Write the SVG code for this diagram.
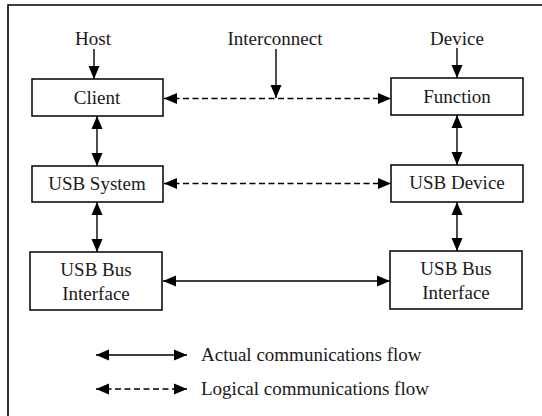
<svg xmlns="http://www.w3.org/2000/svg" width="542" height="416" viewBox="0 0 542 416">
  <style>
    .box { fill: #ffffff; stroke: #000000; stroke-width: 1.5; }
    .lbl { font-family: 'Liberation Serif', 'DejaVu Serif', serif; font-size: 19px; fill: #1a1a1a; }
    .mid { text-anchor: middle; }
    .solid { stroke: #000000; stroke-width: 1.4; fill: none; }
    .dash { stroke: #000000; stroke-width: 1.4; fill: none; stroke-dasharray: 6 3.5; }
    .bi { marker-start: url(#head); marker-end: url(#head); }
    .uni { marker-end: url(#head); }
  </style>
  <defs>
    <marker id="head" markerUnits="userSpaceOnUse" markerWidth="14" markerHeight="12" refX="13" refY="6" orient="auto-start-reverse">
      <path d="M0,0.5 L13,6 L0,11.5 z" fill="#000000"/>
    </marker>
  </defs>
  <rect width="542" height="416" fill="#ffffff"/>

  <!-- frame: left and top edges only -->
  <path d="M8,416 V5 H542" fill="none" stroke="#000000" stroke-width="1.6"/>

  <!-- column headings -->
  <text class="lbl mid" x="93" y="45">Host</text>
  <text class="lbl mid" x="275" y="45">Interconnect</text>
  <text class="lbl mid" x="457" y="45">Device</text>

  <g id="client">
    <rect class="box" x="32" y="79" width="131" height="37"/>
    <text class="lbl mid" x="97" y="104">Client</text>
  </g>
  <g id="usb-system">
    <rect class="box" x="32" y="166" width="131" height="36"/>
    <text class="lbl mid" x="97" y="190">USB System</text>
  </g>
  <g id="host-bus-interface">
    <rect class="box" x="30" y="252" width="132" height="58"/>
    <text class="lbl mid" x="96" y="276">USB Bus</text>
    <text class="lbl mid" x="96" y="300">Interface</text>
  </g>
  <g id="function">
    <rect class="box" x="391" y="78" width="132" height="37"/>
    <text class="lbl mid" x="457" y="103">Function</text>
  </g>
  <g id="usb-device">
    <rect class="box" x="391" y="165" width="132" height="37"/>
    <text class="lbl mid" x="457" y="189">USB Device</text>
  </g>
  <g id="device-bus-interface">
    <rect class="box" x="390" y="251" width="132" height="58"/>
    <text class="lbl mid" x="456" y="275">USB Bus</text>
    <text class="lbl mid" x="456" y="299">Interface</text>
  </g>

  <g id="connectors">
    <!-- heading pointers -->
    <line class="solid uni" x1="94" y1="49" x2="94" y2="79"/>
    <line class="solid uni" x1="276" y1="49" x2="276" y2="98"/>
    <line class="solid uni" x1="457" y1="48" x2="457" y2="78"/>
    <!-- vertical stacks -->
    <line class="solid bi" x1="97" y1="116" x2="97" y2="166"/>
    <line class="solid bi" x1="97" y1="202" x2="97" y2="252"/>
    <line class="solid bi" x1="457" y1="115" x2="457" y2="165"/>
    <line class="solid bi" x1="457" y1="202" x2="457" y2="251"/>
    <!-- peer links -->
    <line class="dash bi" x1="164" y1="98.5" x2="391" y2="98.5"/>
    <line class="dash bi" x1="164" y1="183.5" x2="391" y2="183.5"/>
    <line class="solid bi" x1="163" y1="281" x2="390" y2="281"/>
  </g>

  <g id="legend">
    <line class="solid bi" x1="96" y1="355" x2="187" y2="355"/>
    <text class="lbl" x="201" y="361">Actual communications flow</text>
    <line class="dash bi" x1="96" y1="389" x2="187" y2="389"/>
    <text class="lbl" x="201" y="395">Logical communications flow</text>
  </g>
</svg>
